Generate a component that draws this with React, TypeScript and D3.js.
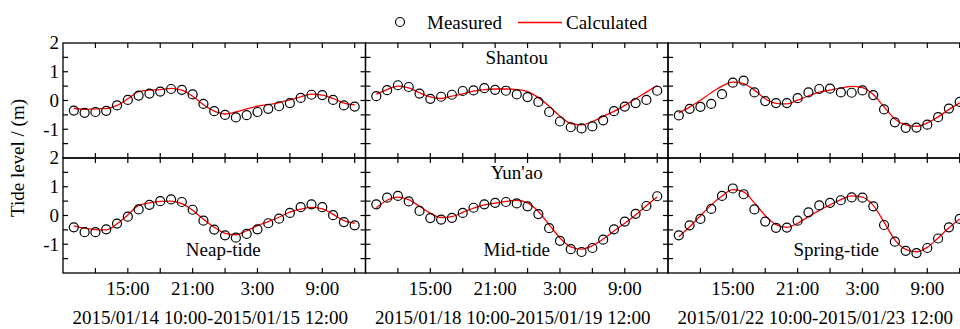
import { useEffect, useRef } from "react";
import * as d3 from "d3";

const stations = ["Shantou", "Yun'ao"];
const tideLabels = ["Neap-tide", "Mid-tide", "Spring-tide"];
const rangeLabels = [
  "2015/01/14 10:00-2015/01/15 12:00",
  "2015/01/18 10:00-2015/01/19 12:00",
  "2015/01/22 10:00-2015/01/23 12:00",
];
const startDates = [
  new Date(2015, 0, 14, 10),
  new Date(2015, 0, 18, 10),
  new Date(2015, 0, 22, 10),
];
const yTicks = [2, 1, 0, -1];

// hourly values, 10:00 -> 12:00 next day
const shantouNeapMeasured = [-0.35, -0.43, -0.4, -0.36, -0.17, 0.02, 0.17, 0.24, 0.31, 0.4, 0.37, 0.21, -0.12, -0.37, -0.5, -0.59, -0.51, -0.4, -0.29, -0.2, -0.09, 0.09, 0.2, 0.19, 0.02, -0.17, -0.21];
const shantouNeapCalc = [-0.27, -0.31, -0.29, -0.28, -0.17, 0.06, 0.31, 0.36, 0.38, 0.42, 0.36, 0.15, -0.15, -0.37, -0.47, -0.4, -0.29, -0.2, -0.14, -0.07, 0.02, 0.13, 0.22, 0.19, 0.07, -0.09, -0.15];
const shantouMidMeasured = [0.15, 0.36, 0.53, 0.47, 0.24, 0.06, 0.13, 0.2, 0.33, 0.35, 0.43, 0.37, 0.34, 0.21, 0.12, -0.05, -0.4, -0.73, -0.93, -0.97, -0.9, -0.69, -0.37, -0.21, -0.09, 0.02, 0.34];
const shantouMidCalc = [0.22, 0.38, 0.5, 0.44, 0.27, 0.13, 0.07, 0.15, 0.23, 0.33, 0.38, 0.4, 0.4, 0.38, 0.31, 0.1, -0.2, -0.55, -0.8, -0.85, -0.73, -0.55, -0.38, -0.17, 0.06, 0.29, 0.52];
const shantouSpringMeasured = [-0.52, -0.29, -0.22, -0.12, 0.22, 0.62, 0.69, 0.28, -0.02, -0.09, -0.09, 0.08, 0.28, 0.4, 0.41, 0.28, 0.27, 0.35, 0.19, -0.31, -0.76, -0.95, -0.94, -0.84, -0.58, -0.28, -0.05];
const shantouSpringCalc = [-0.43, -0.23, 0.01, 0.27, 0.5, 0.64, 0.59, 0.36, 0.06, -0.1, -0.12, 0.01, 0.16, 0.29, 0.36, 0.43, 0.49, 0.45, 0.21, -0.22, -0.64, -0.85, -0.9, -0.78, -0.57, -0.31, -0.08];
const yunaoNeapMeasured = [-0.41, -0.58, -0.58, -0.48, -0.28, -0.04, 0.21, 0.37, 0.5, 0.56, 0.47, 0.2, -0.18, -0.49, -0.69, -0.77, -0.64, -0.48, -0.27, -0.11, 0.09, 0.29, 0.39, 0.29, 0.01, -0.23, -0.34];
const yunaoNeapCalc = [-0.36, -0.44, -0.49, -0.5, -0.29, 0.02, 0.35, 0.44, 0.49, 0.5, 0.41, 0.18, -0.13, -0.41, -0.62, -0.67, -0.53, -0.35, -0.21, -0.06, 0.12, 0.22, 0.28, 0.23, 0.04, -0.18, -0.27];
const yunaoMidMeasured = [0.39, 0.62, 0.68, 0.49, 0.16, -0.09, -0.14, -0.08, 0.09, 0.27, 0.39, 0.44, 0.47, 0.42, 0.32, 0.05, -0.44, -0.88, -1.17, -1.27, -1.13, -0.84, -0.48, -0.21, 0.06, 0.33, 0.67];
const yunaoMidCalc = [0.27, 0.53, 0.64, 0.55, 0.32, 0.08, -0.07, -0.04, 0.11, 0.26, 0.37, 0.43, 0.49, 0.53, 0.44, 0.14, -0.32, -0.78, -1.09, -1.17, -1.05, -0.82, -0.54, -0.27, 0.02, 0.34, 0.64];
const yunaoSpringMeasured = [-0.69, -0.34, -0.12, 0.23, 0.68, 0.94, 0.74, 0.21, -0.21, -0.43, -0.42, -0.18, 0.11, 0.35, 0.44, 0.53, 0.63, 0.62, 0.32, -0.33, -0.91, -1.23, -1.31, -1.13, -0.8, -0.41, -0.12];
const yunaoSpringCalc = [-0.74, -0.39, -0.01, 0.37, 0.68, 0.9, 0.82, 0.44, 0.0, -0.32, -0.41, -0.27, -0.04, 0.18, 0.37, 0.55, 0.68, 0.64, 0.35, -0.23, -0.85, -1.18, -1.26, -1.11, -0.78, -0.43, -0.12];

const measured = [
  [shantouNeapMeasured, shantouMidMeasured, shantouSpringMeasured],
  [yunaoNeapMeasured, yunaoMidMeasured, yunaoSpringMeasured],
];
const calculated = [
  [shantouNeapCalc, shantouMidCalc, shantouSpringCalc],
  [yunaoNeapCalc, yunaoMidCalc, yunaoSpringCalc],
];

const FONT = "Liberation Serif";

const App = () => {
  const svgRef = useRef<SVGSVGElement>(null);
  const W = 960;
  const H = 329;
  const left = 63;
  const top = 43;
  const panelW = 302.5;
  const rowH = 115;
  const tick = 5;

  useEffect(() => {
    document.body.style.margin = "0";
    const svg = d3.select(svgRef.current).attr("width", W).attr("height", H);
    svg.selectAll("*").remove();
    const g = svg.append("g");

    const line = d3
      .line<{ t: Date; v: number }>()
      .curve(d3.curveMonotoneX);

    for (let c = 0; c < 3; c++) {
      const x0 = left + c * panelW;
      const start = startDates[c];
      const x = d3
        .scaleTime()
        .domain([d3.timeHour.offset(start, -1), d3.timeHour.offset(start, 27)])
        .range([x0, x0 + panelW]);
      const xTicks = d3.timeHour.every(3)!.range(x.domain()[0], x.domain()[1]).filter((d) => +d > +x.domain()[0]);

      for (let r = 0; r < 2; r++) {
        const y0 = top + r * rowH;
        const y = d3.scaleLinear().domain([-2, 2]).range([y0 + rowH, y0]);
        const p = g.append("g");

        const pts = measured[r][c].map((v, i) => ({ t: d3.timeHour.offset(start, i), v }));
        const cal = calculated[r][c].map((v, i) => ({ t: d3.timeHour.offset(start, i), v }));

        p.append("path")
          .attr("d", line.x((d) => x(d.t)).y((d) => y(d.v))(cal))
          .attr("fill", "none")
          .attr("stroke", "#ff0000")
          .attr("stroke-width", 1.3);

        p.selectAll("circle")
          .data(pts)
          .join("circle")
          .attr("cx", (d) => x(d.t))
          .attr("cy", (d) => y(d.v))
          .attr("r", 4.5)
          .attr("fill", "none")
          .attr("stroke", "#000")
          .attr("stroke-width", 1.2);

        // inward ticks on all four sides
        const yt = d3.range(-1.5, 2, 0.5);
        p.selectAll("line.yl")
          .data(yt)
          .join("line")
          .attr("class", "yl")
          .attr("x1", x0)
          .attr("x2", x0 + tick)
          .attr("y1", (d) => y(d))
          .attr("y2", (d) => y(d));
        p.selectAll("line.yr")
          .data(yt)
          .join("line")
          .attr("class", "yr")
          .attr("x1", x0 + panelW)
          .attr("x2", x0 + panelW - tick)
          .attr("y1", (d) => y(d))
          .attr("y2", (d) => y(d));
        p.selectAll("line.xt")
          .data(xTicks)
          .join("line")
          .attr("class", "xt")
          .attr("x1", (d) => x(d))
          .attr("x2", (d) => x(d))
          .attr("y1", y0)
          .attr("y2", y0 + tick);
        p.selectAll("line.xb")
          .data(xTicks)
          .join("line")
          .attr("class", "xb")
          .attr("x1", (d) => x(d))
          .attr("x2", (d) => x(d))
          .attr("y1", y0 + rowH)
          .attr("y2", y0 + rowH - tick);
        p.selectAll("line").attr("stroke", "#000").attr("stroke-width", 1.2);

        p.append("rect")
          .attr("x", x0)
          .attr("y", y0)
          .attr("width", panelW)
          .attr("height", rowH)
          .attr("fill", "none")
          .attr("stroke", "#000")
          .attr("stroke-width", 1.3);

        if (c === 0) {
          g.append("g")
            .selectAll("text")
            .data(yTicks)
            .join("text")
            .attr("x", left - 4)
            .attr("y", (d) => y(d))
            .attr("dy", "0.34em")
            .attr("text-anchor", "end")
            .text((d) => d);
        }
        if (c === 1) {
          p.append("text")
            .attr("x", x0 + panelW / 2)
            .attr("y", y0 + 15)
            .attr("dy", "0.34em")
            .attr("text-anchor", "middle")
            .text(stations[r]);
        }
        if (r === 1) {
          const labelX = [0.53, 0.5, 0.556][c];
          p.append("text")
            .attr("x", x0 + panelW * labelX)
            .attr("y", y0 + 92)
            .attr("dy", "0.34em")
            .attr("text-anchor", "middle")
            .text(tideLabels[c]);

          g.append("g")
            .selectAll("text")
            .data(xTicks.filter((d) => d.getHours() % 6 === 3))
            .join("text")
            .attr("x", (d) => x(d))
            .attr("y", y0 + rowH + 22)
            .attr("text-anchor", "middle")
            .text((d) => d3.timeFormat("%-H:%M")(d));

          g.append("text")
            .attr("x", x0 + panelW / 2 - 4)
            .attr("y", 324)
            .attr("text-anchor", "middle")
            .text(rangeLabels[c]);
        }
      }
    }

    g.append("text")
      .attr("transform", `translate(24,${top + rowH}) rotate(-90)`)
      .attr("text-anchor", "middle")
      .text("Tide level / (m)");

    // legend
    const lg = g.append("g");
    lg.append("circle")
      .attr("cx", 400)
      .attr("cy", 22)
      .attr("r", 4.5)
      .attr("fill", "none")
      .attr("stroke", "#000")
      .attr("stroke-width", 1.2);
    lg.append("text").attr("x", 427).attr("y", 28.5).text("Measured");
    lg.append("line")
      .attr("x1", 518)
      .attr("x2", 562)
      .attr("y1", 22.5)
      .attr("y2", 22.5)
      .attr("stroke", "#ff0000")
      .attr("stroke-width", 1.3);
    lg.append("text").attr("x", 566).attr("y", 28.5).text("Calculated");

    svg.selectAll("text").attr("font-family", FONT).attr("font-size", 19).attr("fill", "#000");
  }, []);

  return <svg ref={svgRef} style={{ display: "block" }}></svg>;
};

export default App;
